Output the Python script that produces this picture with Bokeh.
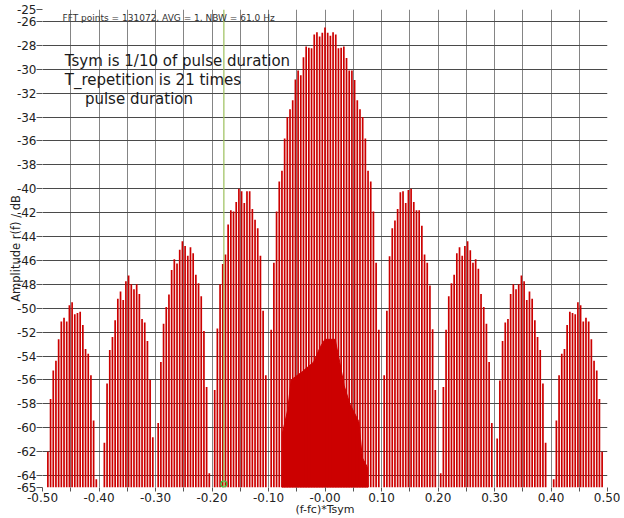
from bokeh.plotting import figure
from bokeh.models import FixedTicker, Label, ColumnDataSource, Range1d, Span
from bokeh.embed import file_html
from bokeh.resources import INLINE

# ---------------- data ----------------
harmonic_spacing = 1 / 210          # line spacing in (f-fc)*Tsym units (T_rep = 210 Tsym)

# first harmonic number of each lobe and the level (dB) of each successive spectral line
lobe_start = [-103, -82, -62, -41, -20, 22, 43, 64, 85]
lobe_m5_db = [-62.0, -57.6, -55.2, -54.4, -52.6, -51.1, -50.8, -51.1, -49.75, -49.5,
              -50.5, -50.4, -50.3, -51.4, -53.4, -53.8, -55.6, -59.4, -64.3]
lobe_m4_db = [-61.25, -56.3, -53.5, -52.4, -51.0, -49.2, -48.6, -49.3, -47.75, -47.25,
              -48.0, -48.4, -48.0, -48.8, -50.9, -51.2, -52.75, -56.0, -60.8]
lobe_m3_db = [-59.6, -54.5, -51.3, -49.9, -48.85, -46.8, -45.9, -46.25, -45.1, -44.4,
              -44.8, -45.6, -44.9, -45.4, -47.2, -47.9, -49.0, -51.9, -56.6, -63.8]
lobe_m2_db = [-56.85, -51.7, -48.0, -46.3, -45.5, -43.0, -41.8, -41.9, -41.1, -40.0,
              -40.2, -41.2, -40.2, -40.2, -41.7, -42.6, -43.3, -45.6, -50.2, -55.6]
lobe_main_db = [-51.8, -46.2, -41.9, -39.4, -38.5, -35.8, -34.0, -33.35, -32.6, -30.85,
                -30.1, -30.5, -29.0, -28.1, -28.2, -28.25, -27.1, -26.9, -27.25, -26.95,
                -26.5,
                -26.95, -27.2, -26.9, -27.1, -28.25, -28.2, -28.1, -29.05, -30.1, -30.1,
                -30.9, -32.6, -33.35, -34.0, -35.8, -38.5, -39.4, -41.9, -46.2, -51.8]
lobe_p2_db = [-55.6, -50.2, -45.65, -43.3, -42.65, -41.7, -40.3, -40.2, -41.2, -40.1,
              -40.0, -41.1, -41.8, -41.8, -43.1, -45.5, -46.2, -48.1, -51.75, -56.85]
lobe_p3_db = [-63.8, -56.6, -51.8, -49.0, -47.9, -47.2, -45.4, -44.9, -45.6, -44.8,
              -44.4, -45.15, -46.2, -45.9, -46.7, -48.8, -49.9, -51.3, -54.5, -59.6]
lobe_p4_db = [-60.9, -56.05, -52.75, -51.2, -50.9, -48.8, -48.0, -48.4, -48.0, -47.25,
              -47.75, -49.3, -48.6, -49.2, -51.0, -52.4, -53.5, -56.3, -61.25]
lobe_p5_db = [-64.3, -59.4, -55.6, -53.8, -53.4, -51.4, -50.3, -50.4, -50.5, -49.5,
              -49.75, -51.1, -50.8, -51.1, -52.6, -54.4, -55.2, -57.6, -62.0]

# dense FFT floor under the main lobe (top edge of the solid red block)
floor_f = [-0.076, -0.0755, -0.066, -0.060, -0.040, -0.020, -0.008, 0.000, 0.018,
           0.026, 0.034, 0.044, 0.060, 0.066, 0.075, 0.076]
floor_db = [-65.0, -60.5, -58.5, -56.0, -55.3, -54.5, -53.2, -52.6, -52.6,
            -54.5, -56.5, -58.0, -59.5, -62.5, -63.3, -65.0]

cursor_f = [-0.179]
cursor_db = [-64.7]

x_ticks = [-0.5, -0.4, -0.3, -0.2, -0.1, 0, 0.1, 0.2, 0.3, 0.4, 0.5]
x_tick_labels = ["-0.50", "-0.40", "-0.30", "-0.20", "-0.10", "-0.00",
                 "0.10", "0.20", "0.30", "0.40", "0.50"]
x_minor_ticks = [-0.45, -0.35, -0.25, -0.15, -0.05, 0.05, 0.15, 0.25, 0.35, 0.45]
y_ticks = [-25, -26, -28, -30, -32, -34, -36, -38, -40, -42, -44, -46, -48, -50,
           -52, -54, -56, -58, -60, -62, -64, -65]
y_tick_labels = ["-25", "-26", "-28", "-30", "-32", "-34", "-36", "-38", "-40", "-42",
                 "-44", "-46", "-48", "-50", "-52", "-54", "-56", "-58", "-60", "-62",
                 "-64", "-65"]
y_grid_ticks = [-26, -28, -30, -32, -34, -36, -38, -40, -42, -44, -46, -48, -50,
                -52, -54, -56, -58, -60, -62, -64]

info_text = "FFT points = 131072, AVG = 1, NBW = 61.0 Hz"
note_lines = ["Tsym is 1/10 of pulse duration", "T_repetition is 21 times", "pulse duration"]
x_title = "(f-fc)*Tsym"
y_title = "Amplitude r(f) / dB"

# ---------------- build line table ----------------
lobes = [lobe_m5_db, lobe_m4_db, lobe_m3_db, lobe_m2_db, lobe_main_db,
         lobe_p2_db, lobe_p3_db, lobe_p4_db, lobe_p5_db]
line_f, line_db = [], []
for start, vals in zip(lobe_start, lobes):
    for i, v in enumerate(vals):
        line_f.append((start + i) * harmonic_spacing)
        line_db.append(v)
src = ColumnDataSource(dict(f=line_f, db=line_db))

FONT = "DejaVu Sans"
RED = "#cc0000"

p = figure(width=620, height=518, x_range=Range1d(-0.5, 0.5), y_range=Range1d(-65, -25),
           output_backend="svg", toolbar_location=None,
           min_border_left=42, min_border_right=13, min_border_top=9, min_border_bottom=30,
           background_fill_color="white", border_fill_color="white", outline_line_color=None)

# axes
p.xaxis.ticker = FixedTicker(ticks=x_ticks, minor_ticks=x_minor_ticks)
p.xaxis.major_label_overrides = dict(zip(x_ticks, x_tick_labels))
p.yaxis.ticker = FixedTicker(ticks=y_ticks)
p.yaxis.major_label_overrides = dict(zip(y_ticks, y_tick_labels))
for ax in (p.xaxis, p.yaxis):
    ax.axis_line_color = None
    ax.major_tick_in = 0
    ax.minor_tick_in = 0
    ax.major_tick_line_color = "#555555"
    ax.minor_tick_line_color = "#555555"
    ax.major_label_text_font = FONT
    ax.major_label_text_font_size = "12px"
    ax.major_label_text_color = "#222222"
    ax.axis_label_text_font = FONT
    ax.axis_label_text_font_style = "normal"
    ax.axis_label_text_color = "#222222"
p.xaxis.major_tick_out = 4
p.xaxis.minor_tick_out = 4
p.xaxis.major_label_standoff = 1
p.xaxis.axis_label = x_title
p.xaxis.axis_label_text_font_size = "11px"
p.xaxis.axis_label_standoff = -2
p.yaxis.major_tick_out = 6
p.yaxis.minor_tick_line_color = None
p.yaxis.major_label_standoff = 0
p.yaxis.axis_label = y_title
p.yaxis.axis_label_text_font_size = "11.5px"
p.yaxis.axis_label_standoff = -9

# grids
p.xgrid.grid_line_color = "#858585"
p.xgrid.grid_line_width = 1
p.xgrid.minor_grid_line_color = "#858585"
p.xgrid.minor_grid_line_width = 1
p.ygrid.ticker = FixedTicker(ticks=y_grid_ticks)
p.ygrid.grid_line_color = "#4a4a4a"
p.ygrid.grid_line_width = 1

# data marks
p.patch(x=floor_f, y=floor_db, fill_color=RED, line_color=RED, line_width=1)
p.segment(x0="f", y0=-65, x1="f", y1="db", source=src, line_color=RED, line_width=1.7)

p.add_layout(Span(location=cursor_f[0], dimension="height", line_color="#9cbf5c", line_width=1.2))
p.scatter(x=cursor_f, y=cursor_db, marker="circle", size=6, fill_color=None,
          line_color="#44bb44", line_width=1.5)

# texts inside the plot area
p.add_layout(Label(x=-0.4645, y=-25.7, text=info_text, text_font=FONT, text_font_size="9px",
                   text_color="#333333", text_baseline="middle", text_align="left"))
note_pos = [(-0.4605, -29.3), (-0.4605, -30.9), (-0.4250, -32.45)]
for (nx, ny), t in zip(note_pos, note_lines):
    p.add_layout(Label(x=nx, y=ny, text=t, text_font=FONT, text_font_size="15px",
                       text_color="#1a1a1a", text_baseline="middle", text_align="left"))

open("out.html", "w").write(file_html(p, INLINE))
